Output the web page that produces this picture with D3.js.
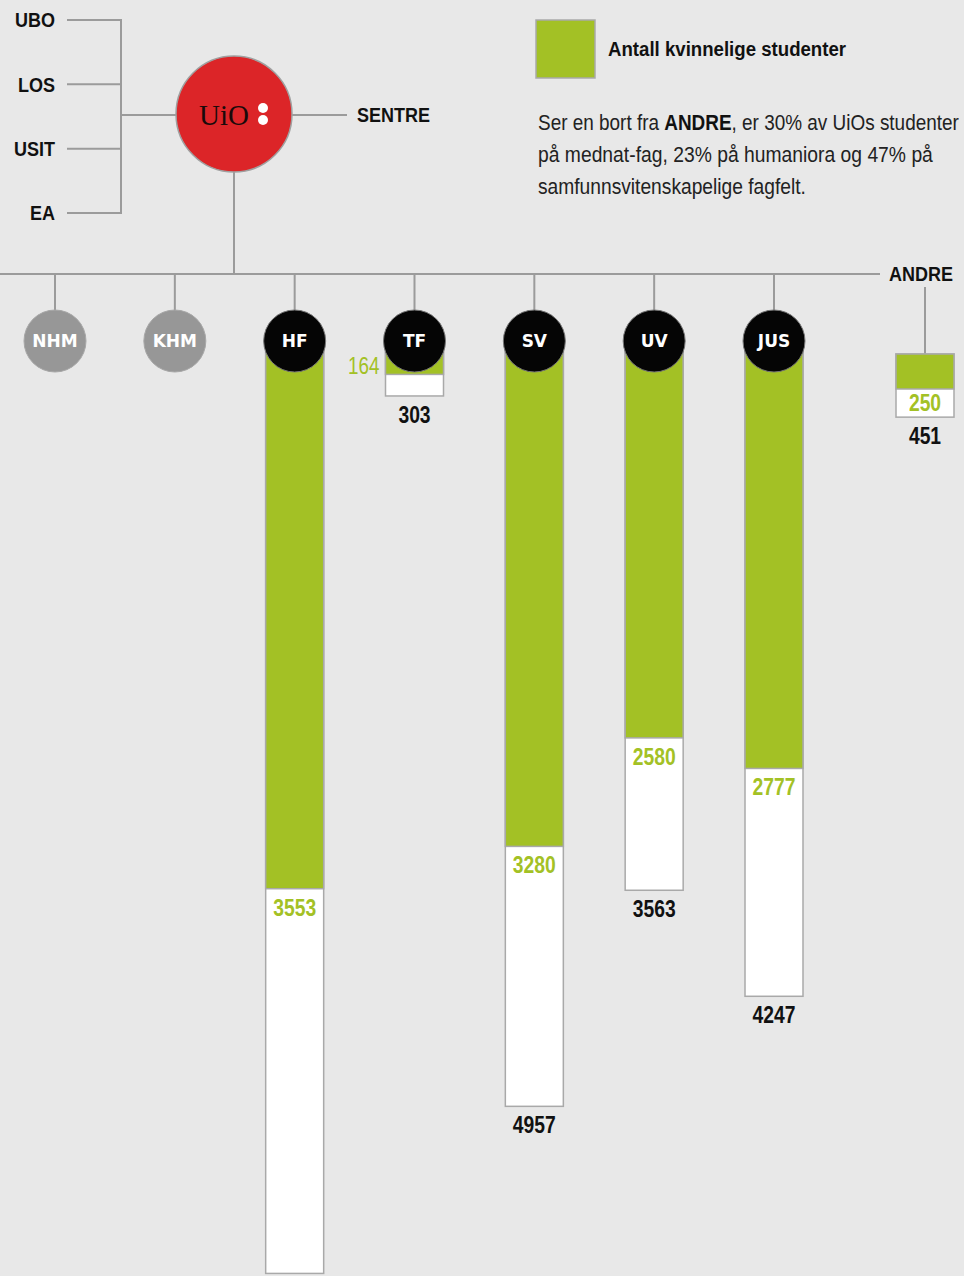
<!DOCTYPE html>
<html>
<head>
<meta charset="utf-8">
<script src="https://cdn.jsdelivr.net/npm/d3@7"></script>
<style>
  html, body { margin: 0; padding: 0; background: #e8e8e8; }
  svg { display: block; }
  text { font-family: "Liberation Sans", Arial, sans-serif; }
</style>
</head>
<body>
<script>
// data
var faculties = ['NHM', 'KHM', 'HF', 'TF', 'SV', 'UV', 'JUS'],
	femaleStudents = [null, null, 3553, 164, 3280, 2580, 2777],
	totalStudents = [null, null, 6035, 303, 4957, 3563, 4247],
	otherLabel = 'ANDRE',
	otherFemale = 250,
	otherTotal = 451,
	units = ['UBO', 'LOS', 'USIT', 'EA'],
	legendText = 'Antall kvinnelige studenter';

var W = 964, H = 1276,
	green = '#a3c125', lineCol = '#9b9b9b', barStroke = '#a9a9a9';

var svg = d3.select('body').append('svg').attr('width', W).attr('height', H);
svg.append('rect').attr('width', W).attr('height', H).attr('fill', '#e8e8e8');

// condensed-looking text: scale Liberation Sans horizontally
function label(parent, x, y, txt, o) {
	o = o || {};
	var g = parent.append('g').attr('transform', 'translate(' + x + ',' + y + ') scale(' + (o.sx || 0.88) + ',1)');
	return g.append('text')
		.attr('text-anchor', o.anchor || 'start')
		.attr('dy', o.dy || 0)
		.attr('font-size', o.size || 20)
		.attr('font-weight', o.weight || 'bold')
		.attr('fill', o.fill || '#111')
		.text(txt);
}
// squeeze a text to a given width
function fitTo(sel, w) {
	var n = sel.node(), nat = n.getComputedTextLength();
	d3.select(n.parentNode).attr('transform', function() {
		return d3.select(this).attr('transform').replace(/scale\([^)]*\)/, 'scale(' + (w / nat) + ',1)');
	});
}

var x = d3.scalePoint().domain(faculties).range([55, 774]);
var y = d3.scaleLinear().domain([0, 5000]).range([338, 338 + 775]);
var yUnits = d3.scalePoint().domain(units).range([20, 213]);

var nodeY = 341, nodeR = 31, barW = 58;
var logo = {x: 234, y: 114, r: 58};

// left bracket
var gUnits = svg.append('g');
gUnits.selectAll('line.unit').data(units).enter().append('line')
	.attr('x1', 67).attr('x2', 121)
	.attr('y1', function(d) { return yUnits(d); }).attr('y2', function(d) { return yUnits(d); })
	.attr('stroke', lineCol).attr('stroke-width', 2);
gUnits.append('line').attr('x1', 121).attr('x2', 121).attr('y1', yUnits('UBO') - 1).attr('y2', yUnits('EA') + 1)
	.attr('stroke', lineCol).attr('stroke-width', 2);
gUnits.append('line').attr('x1', 121).attr('x2', logo.x - logo.r).attr('y1', logo.y + 1).attr('y2', logo.y + 1)
	.attr('stroke', lineCol).attr('stroke-width', 2);
units.forEach(function(u) {
	label(gUnits, 55, yUnits(u), u, {anchor: 'end', dy: '0.36em', sx: 0.9});
});

// SENTRE
svg.append('line').attr('x1', logo.x + logo.r).attr('x2', 347).attr('y1', logo.y + 1).attr('y2', logo.y + 1)
	.attr('stroke', lineCol).attr('stroke-width', 2);
label(svg, 357, logo.y + 1, 'SENTRE', {dy: '0.36em', sx: 0.9});

// stem + main branch
var branchY = 274;
svg.append('line').attr('x1', logo.x).attr('x2', logo.x).attr('y1', logo.y + logo.r).attr('y2', branchY)
	.attr('stroke', lineCol).attr('stroke-width', 2);
svg.append('line').attr('x1', 0).attr('x2', 880).attr('y1', branchY).attr('y2', branchY)
	.attr('stroke', lineCol).attr('stroke-width', 2);
svg.selectAll('line.drop').data(faculties).enter().append('line')
	.attr('class', 'drop')
	.attr('x1', function(d) { return x(d); }).attr('x2', function(d) { return x(d); })
	.attr('y1', branchY).attr('y2', nodeY - nodeR)
	.attr('stroke', lineCol).attr('stroke-width', 2);

// UiO logo
svg.append('circle').attr('cx', logo.x).attr('cy', logo.y).attr('r', logo.r)
	.attr('fill', '#dc2528').attr('stroke', '#a0a0a0').attr('stroke-width', 1.5);
svg.append('text').attr('x', logo.x - 10).attr('y', logo.y + 1).attr('dy', '0.35em')
	.attr('text-anchor', 'middle').style('font-family', '"Liberation Serif", "DejaVu Serif", serif')
	.attr('font-size', 29).attr('fill', '#1a0a0a').text('UiO');
svg.selectAll('circle.dot').data([-6, 6]).enter().append('circle')
	.attr('cx', logo.x + 29).attr('cy', function(d) { return logo.y + d; }).attr('r', 5).attr('fill', '#fff');

// bars
var rows = faculties.map(function(f, i) {
	return {name: f, female: femaleStudents[i], total: totalStudents[i]};
});
var barRows = rows.filter(function(d) { return d.total != null; });
// the small TF bar starts a little lower under its node
function shift(d) { return d.name === 'TF' ? 11 : 0; }

var gBars = svg.append('g');
gBars.selectAll('rect.total').data(barRows).enter().append('rect')
	.attr('x', function(d) { return x(d.name) - barW / 2; })
	.attr('y', function(d) { return y(0) + shift(d); })
	.attr('width', barW)
	.attr('height', function(d) { return y(d.total) - y(0); })
	.attr('fill', '#fff').attr('stroke', barStroke).attr('stroke-width', 1.5);
gBars.selectAll('rect.female').data(barRows).enter().append('rect')
	.attr('x', function(d) { return x(d.name) - barW / 2; })
	.attr('y', function(d) { return y(0) + shift(d); })
	.attr('width', barW)
	.attr('height', function(d) { return y(d.female) - y(0); })
	.attr('fill', green).attr('stroke', barStroke).attr('stroke-width', 1.5);

// value labels
barRows.forEach(function(d) {
	if (d.name === 'TF') {
		label(gBars, x(d.name) - barW / 2 - 6, y(d.female) + shift(d), d.female,
			{anchor: 'end', size: 23, weight: 'normal', sx: 0.82, fill: green});
	} else {
		label(gBars, x(d.name), y(d.female) + 27, d.female, {anchor: 'middle', size: 23, sx: 0.84, fill: green});
	}
	if (y(d.total) < H - 20) {
		label(gBars, x(d.name), y(d.total) + shift(d) + 27, d.total, {anchor: 'middle', size: 23, sx: 0.84});
	}
});

// faculty nodes
var nodes = svg.selectAll('g.node').data(rows).enter().append('g')
	.attr('transform', function(d) { return 'translate(' + x(d.name) + ',' + nodeY + ')'; });
nodes.append('circle').attr('r', nodeR)
	.attr('fill', function(d) { return d.total == null ? '#979797' : '#050505'; })
	.attr('stroke', function(d) { return d.total == null ? '#a8a8a8' : '#777'; }).attr('stroke-width', 1);
nodes.append('text').attr('text-anchor', 'middle').attr('dy', '0.36em')
	.style('font-family', '"DejaVu Sans", sans-serif').attr('font-weight', 'bold')
	.attr('font-size', 17).attr('fill', '#fff')
	.text(function(d) { return d.name; });

// ANDRE
var ax = 925, yOther = d3.scaleLinear().domain([0, 5000]).range([354, 354 + 700]);
label(svg, ax - 4, branchY, otherLabel, {anchor: 'middle', dy: '0.36em', sx: 0.9});
svg.append('line').attr('x1', ax).attr('x2', ax).attr('y1', 287).attr('y2', yOther(0))
	.attr('stroke', lineCol).attr('stroke-width', 2);
svg.append('rect').attr('x', ax - barW / 2).attr('y', yOther(0)).attr('width', barW)
	.attr('height', yOther(otherTotal) - yOther(0))
	.attr('fill', '#fff').attr('stroke', barStroke).attr('stroke-width', 1.5);
svg.append('rect').attr('x', ax - barW / 2).attr('y', yOther(0)).attr('width', barW)
	.attr('height', yOther(otherFemale) - yOther(0))
	.attr('fill', green).attr('stroke', barStroke).attr('stroke-width', 1.5);
label(svg, ax, yOther(otherFemale) + 22, otherFemale, {anchor: 'middle', size: 23, sx: 0.84, fill: green});
label(svg, ax, yOther(otherTotal) + 27, otherTotal, {anchor: 'middle', size: 23, sx: 0.84});

// legend + note
svg.append('rect').attr('x', 536).attr('y', 20).attr('width', 59).attr('height', 58)
	.attr('fill', green).attr('stroke', barStroke).attr('stroke-width', 1.5);
fitTo(label(svg, 608, 48, legendText, {dy: '0.36em', size: 21}), 238);

var l1 = label(svg, 538, 130, '', {size: 22, weight: 'normal', fill: '#222'});
l1.append('tspan').text('Ser en bort fra ');
l1.append('tspan').attr('font-weight', 'bold').attr('fill', '#111').text('ANDRE');
l1.append('tspan').text(', er 30% av UiOs studenter');
fitTo(l1, 421);
fitTo(label(svg, 538, 162, 'på mednat-fag, 23% på humaniora og 47% på', {size: 22, weight: 'normal', fill: '#222'}), 395);
fitTo(label(svg, 538, 194, 'samfunnsvitenskapelige fagfelt.', {size: 22, weight: 'normal', fill: '#222'}), 268);
</script>
</body>
</html>
